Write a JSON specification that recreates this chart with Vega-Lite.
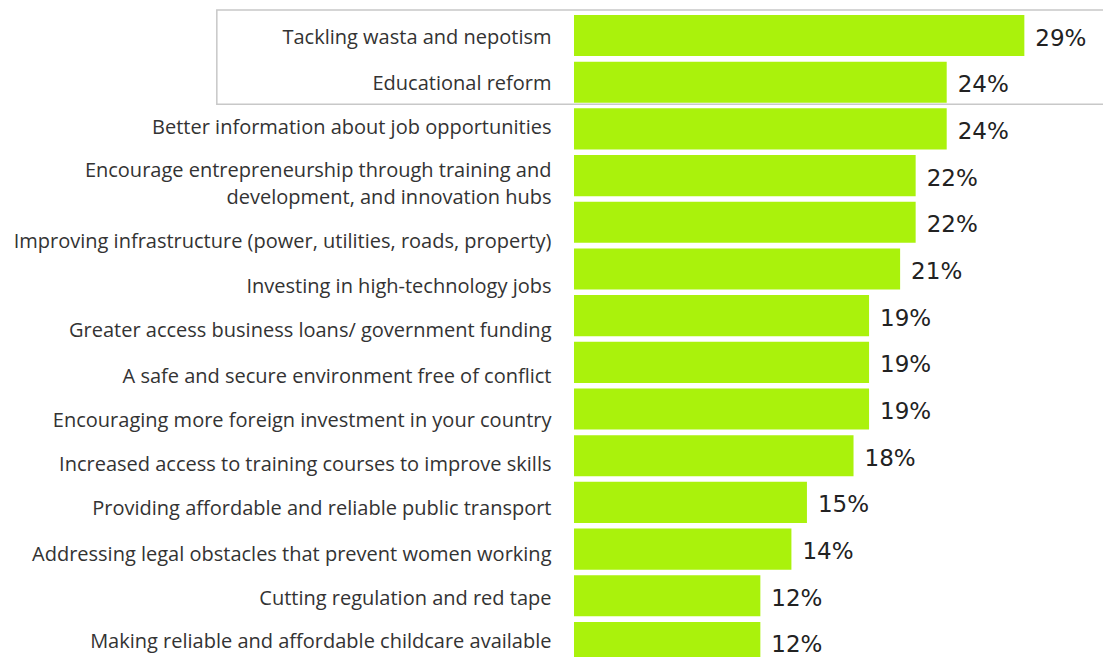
{
  "$schema": "https://vega.github.io/schema/vega-lite/v6.json",
  "width": 528,
  "height": 642,
  "autosize": {"type": "none"},
  "padding": {"left": 574, "top": 15, "right": 1, "bottom": 0},
  "background": "white",
  "config": {"view": {"stroke": null}},
  "datasets": {
    "bars": [
      {"label": "Tackling wasta and nepotism", "value": 0.29},
      {"label": "Educational reform", "value": 0.24},
      {"label": "Better information about job opportunities", "value": 0.24},
      {"label": "Encourage entrepreneurship through training and development, and innovation hubs", "value": 0.22},
      {"label": "Improving infrastructure (power, utilities, roads, property)", "value": 0.22},
      {"label": "Investing in high-technology jobs", "value": 0.21},
      {"label": "Greater access business loans/ government funding", "value": 0.19},
      {"label": "A safe and secure environment free of conflict", "value": 0.19},
      {"label": "Encouraging more foreign investment in your country", "value": 0.19},
      {"label": "Increased access to training courses to improve skills", "value": 0.18},
      {"label": "Providing affordable and reliable public transport", "value": 0.15},
      {"label": "Addressing legal obstacles that prevent women working", "value": 0.14},
      {"label": "Cutting regulation and red tape", "value": 0.12},
      {"label": "Making reliable and affordable childcare available", "value": 0.12}
    ],
    "box": [
      {"from": "Tackling wasta and nepotism", "to": "Educational reform", "start": -0.23, "end": 0.4}
    ]
  },
  "layer": [
    {
      "data": {"name": "bars"},
      "mark": {"type": "bar", "color": "#aaf20c"},
      "encoding": {
        "y": {
          "field": "label",
          "type": "nominal",
          "sort": null,
          "title": null,
          "scale": {
            "domain": [
              "Tackling wasta and nepotism",
              "Educational reform",
              "Better information about job opportunities",
              "Encourage entrepreneurship through training and development, and innovation hubs",
              "Improving infrastructure (power, utilities, roads, property)",
              "Investing in high-technology jobs",
              "Greater access business loans/ government funding",
              "A safe and secure environment free of conflict",
              "Encouraging more foreign investment in your country",
              "Increased access to training courses to improve skills",
              "Providing affordable and reliable public transport",
              "Addressing legal obstacles that prevent women working",
              "Cutting regulation and red tape",
              "Making reliable and affordable childcare available"
            ],
            "range": [0, 648],
            "paddingInner": 0.12,
            "paddingOuter": 0
          },
          "axis": {
            "domain": false,
            "ticks": false,
            "labelPadding": 23,
            "labelFont": "Open Sans",
            "labelFontSize": 20,
            "labelColor": "#333333",
            "labelLimit": 600,
            "labelLineHeight": 27,
            "labelOffset": {
              "condition": [
                {"test": "indexof(datum.value, 'Tackling') === 0", "value": 2.5},
                {"test": "indexof(datum.value, 'Better') === 0", "value": -1},
                {"test": "indexof(datum.value, 'Encourage ') === 0", "value": -5},
                {"test": "indexof(datum.value, 'Improving') === 0", "value": 20},
                {"test": "indexof(datum.value, 'Investing') === 0", "value": 18.5},
                {"test": "indexof(datum.value, 'Greater') === 0", "value": 15.5},
                {"test": "indexof(datum.value, 'A safe') === 0", "value": 14.5},
                {"test": "indexof(datum.value, 'Encouraging') === 0", "value": 11.5},
                {"test": "indexof(datum.value, 'Increased') === 0", "value": 9.5},
                {"test": "indexof(datum.value, 'Providing') === 0", "value": 7},
                {"test": "indexof(datum.value, 'Addressing') === 0", "value": 5.5},
                {"test": "indexof(datum.value, 'Cutting') === 0", "value": 3.5},
                {"test": "indexof(datum.value, 'Making') === 0", "value": 0}
              ],
              "value": 1.5
            },
            "labelExpr": "datum.label == 'Encourage entrepreneurship through training and development, and innovation hubs' ? ['Encourage entrepreneurship through training and', 'development, and innovation hubs'] : datum.label"
          }
        },
        "x": {
          "field": "value",
          "type": "quantitative",
          "scale": {"domain": [0, 0.34], "nice": false},
          "axis": null
        }
      }
    },
    {
      "data": {"name": "bars"},
      "mark": {
        "type": "text",
        "align": "left",
        "baseline": "middle",
        "dx": 11,
        "dy": 3,
        "font": "DejaVu Sans",
        "fontSize": 23,
        "color": "#222222"
      },
      "encoding": {
        "y": {"field": "label", "type": "nominal", "sort": null},
        "x": {"field": "value", "type": "quantitative"},
        "text": {"field": "value", "type": "quantitative", "format": ".0%"}
      }
    },
    {
      "data": {"name": "box"},
      "mark": {
        "type": "rect",
        "filled": false,
        "stroke": "#c8c8c8",
        "strokeWidth": 1.5,
        "yOffset": -5,
        "y2Offset": 1.5
      },
      "encoding": {
        "y": {"field": "from", "type": "nominal", "bandPosition": 0},
        "y2": {"field": "to", "bandPosition": 1},
        "x": {"field": "start", "type": "quantitative"},
        "x2": {"field": "end"}
      }
    }
  ]
}
